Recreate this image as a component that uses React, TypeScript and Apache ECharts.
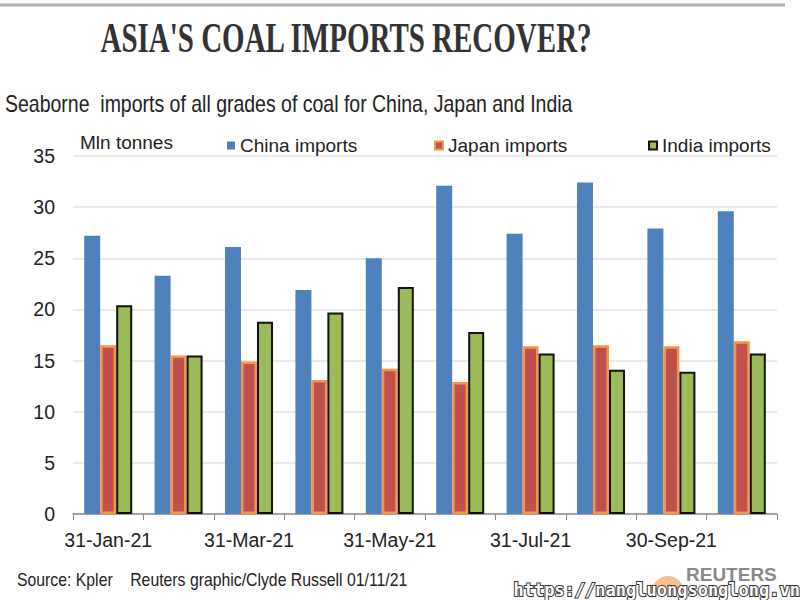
import React, { useEffect, useRef } from "react";
import * as echarts from "echarts";

const categories = ["31-Jan-21", "28-Feb-21", "31-Mar-21", "30-Apr-21", "31-May-21", "30-Jun-21", "31-Jul-21", "31-Aug-21", "30-Sep-21", "31-Oct-21"];
const chinaImports = [27.2, 23.3, 26.1, 21.9, 25.0, 32.1, 27.4, 32.4, 27.9, 29.6];
const japanImports = [16.5, 15.5, 14.9, 13.1, 14.2, 12.9, 16.4, 16.5, 16.4, 16.9];
const indiaImports = [20.4, 15.5, 18.8, 19.7, 22.2, 17.8, 15.7, 14.1, 13.9, 15.7];
const yTicks = { min: 0, max: 35, interval: 5 };

const FONT = "'Liberation Sans', Arial, sans-serif";

export default function App() {
  const ref = useRef<HTMLDivElement>(null);
  useEffect(() => {
    if (!ref.current) return;
    const chart = echarts.init(ref.current, undefined, { renderer: "svg" });
    const legendText = { fontFamily: FONT, fontSize: 19, color: "#222" };
    chart.setOption({
      animation: false,
      backgroundColor: "#ffffff",
      grid: { left: 73, right: 23, top: 156, bottom: 86, containLabel: false },
      legend: [
        { data: ["China imports"], left: 222, top: 131, itemWidth: 8, itemHeight: 8, itemGap: 4, textStyle: legendText, icon: "rect" },
        { data: ["Japan imports"], left: 429, top: 131, itemWidth: 8, itemHeight: 8, itemGap: 4, textStyle: legendText, icon: "rect" },
        { data: ["India imports"], left: 643, top: 131, itemWidth: 8, itemHeight: 8, itemGap: 4, textStyle: legendText, icon: "rect" },
      ],
      xAxis: {
        type: "category",
        data: categories,
        boundaryGap: true,
        axisLine: { lineStyle: { color: "#8a8a8a", width: 1.5 } },
        axisTick: { show: true, interval: 0, length: 6, lineStyle: { color: "#8a8a8a" } },
        axisLabel: { interval: 1, fontFamily: FONT, fontSize: 19.5, color: "#222", margin: 16 },
      },
      yAxis: {
        type: "value",
        min: yTicks.min,
        max: yTicks.max,
        interval: yTicks.interval,
        axisLine: { show: false },
        axisTick: { show: false },
        axisLabel: { fontFamily: FONT, fontSize: 19.5, color: "#222", margin: 18 },
        splitLine: { lineStyle: { color: "#e3e3e3", width: 1.5 } },
      },
      series: [
        {
          name: "China imports",
          type: "bar",
          data: chinaImports,
          barWidth: 16,
          barGap: "0%",
          itemStyle: { color: "#4F81BD" },
        },
        {
          name: "Japan imports",
          type: "bar",
          data: japanImports,
          barWidth: 16,
          barGap: "0%",
          itemStyle: { color: "#C0504D", borderColor: "#F79646", borderWidth: 2.5 },
        },
        {
          name: "India imports",
          type: "bar",
          data: indiaImports,
          barWidth: 16,
          barGap: "0%",
          itemStyle: { color: "#9BBB59", borderColor: "#111", borderWidth: 2 },
        },
      ],
      graphic: [
        { type: "line", shape: { x1: 0, y1: 5, x2: 785, y2: 5 }, style: { stroke: "#b0b0b0", lineWidth: 3 } },
        {
          type: "text",
          x: 346,
          y: 38,
          scaleY: 1.45,
          style: {
            text: "ASIA'S COAL IMPORTS RECOVER?",
            fontFamily: "'Liberation Serif', 'Times New Roman', serif",
            fontWeight: "bold",
            fontSize: 29,
            fill: "#333",
            align: "center",
            verticalAlign: "middle",
          },
        },
        {
          type: "text",
          x: 5,
          y: 104,
          scaleY: 1.2,
          style: {
            text: "Seaborne  imports of all grades of coal for China, Japan and India",
            fontFamily: FONT,
            fontSize: 19.5,
            fill: "#222",
            verticalAlign: "middle",
          },
        },
        {
          type: "text",
          x: 80,
          y: 142,
          style: { text: "Mln tonnes", fontFamily: FONT, fontSize: 19, fill: "#222", verticalAlign: "middle" },
        },
        {
          type: "text",
          x: 17,
          y: 580,
          scaleY: 1.15,
          style: {
            text: "Source: Kpler    Reuters graphic/Clyde Russell 01/11/21",
            fontFamily: FONT,
            fontSize: 15.8,
            fill: "#222",
            verticalAlign: "middle",
          },
        },
        {
          type: "text",
          x: 686,
          y: 574,
          style: { text: "REUTERS", fontFamily: FONT, fontWeight: "bold", fontSize: 19, fill: "#8a8a8a", verticalAlign: "middle" },
        },
        { type: "sector", shape: { cx: 668, cy: 592, r0: 5, r: 16, startAngle: Math.PI, endAngle: Math.PI * 2 }, style: { fill: "#f5b070", opacity: 0.8 } },
        {
          type: "text",
          x: 800,
          y: 590,
          style: {
            text: "https://nangluongsonglong.vn",
            fontFamily: "'DejaVu Sans Mono', monospace",
            fontWeight: "bold",
            fontSize: 17,
            fill: "#ffffff",
            stroke: "#333",
            lineWidth: 2,
            align: "right",
            verticalAlign: "middle",
          },
        },
      ],
    });
    return () => chart.dispose();
  }, []);
  return <div ref={ref} style={{ width: 800, height: 600, position: "absolute", left: 0, top: 0 }} />;
}
